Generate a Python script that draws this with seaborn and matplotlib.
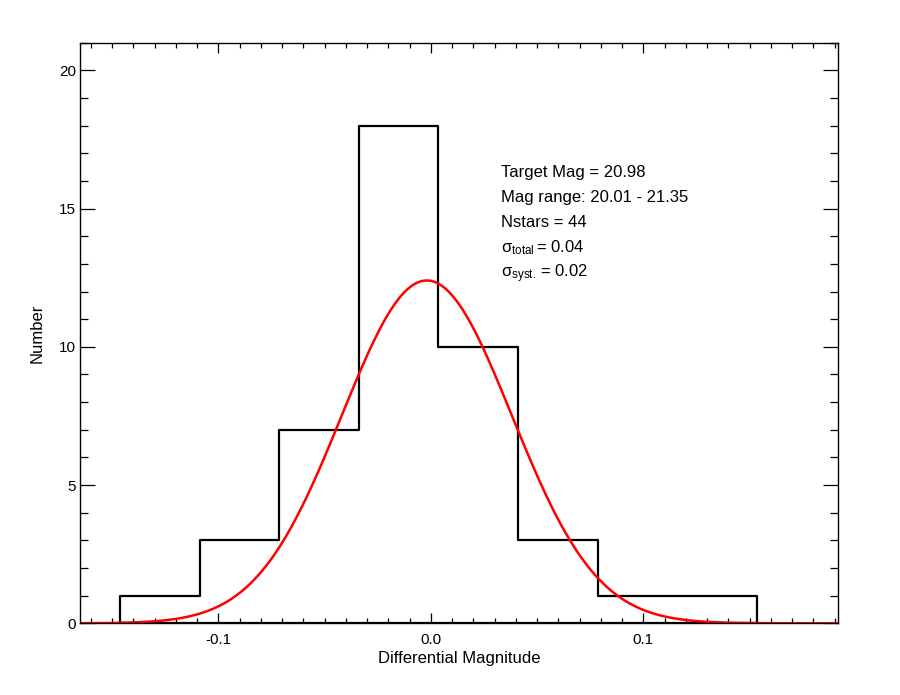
import numpy as np
import matplotlib
matplotlib.use("Agg")
import matplotlib.pyplot as plt
from matplotlib.ticker import MultipleLocator
import seaborn as sns

# histogram of differential magnitudes
bin_edges = [-0.1463, -0.1088, -0.0714, -0.0339, 0.0035, 0.0410, 0.0785, 0.1159, 0.1534]
bin_counts = [1, 3, 7, 18, 10, 3, 1, 1]

# gaussian fit drawn in red
fit_amp = 12.40
fit_center = -0.0019
fit_sigma = 0.0400

info_lines = [
    "Target Mag = 20.98",
    "Mag range: 20.01 - 21.35",
    "Nstars = 44",
    r"$\mathrm{\sigma_{total}}\,$= 0.04",
    r"$\mathrm{\sigma_{syst.}}\,$= 0.02",
]

x_lim = (-0.1651, 0.1916)
y_lim = (0, 21)

sns.set_style("ticks")
plt.rcParams["font.family"] = ["Liberation Sans", "DejaVu Sans"]
plt.rcParams["mathtext.fontset"] = "custom"
plt.rcParams["mathtext.rm"] = "Liberation Sans"
plt.rcParams["mathtext.it"] = "Liberation Sans:italic"
plt.rcParams["mathtext.bf"] = "Liberation Sans:bold"
plt.rcParams["text.color"] = "black"
plt.rcParams["axes.labelcolor"] = "black"

fig = plt.figure(figsize=(9, 6.95), dpi=100)
ax = fig.add_axes([80 / 900, 1 - 623.3 / 695, 758 / 900, 580.6 / 695])

centers = [(a + b) / 2 for a, b in zip(bin_edges[:-1], bin_edges[1:])]
sns.histplot(x=centers, weights=bin_counts, bins=bin_edges, element="step",
             fill=True, color="black", linewidth=1.6, ax=ax)
# outline only: drop the fill so the steps come down to zero at both ends
for coll in ax.collections:
    coll.set_facecolor("none")
    coll.set_edgecolor("black")
    coll.set_linewidth(1.6)

# fit curve evaluated across the full axis range
xs = np.linspace(x_lim[0], x_lim[1], 600)
ys = fit_amp * np.exp(-0.5 * ((xs - fit_center) / fit_sigma) ** 2)
sns.lineplot(x=xs, y=ys, color="red", linewidth=1.8, ax=ax)

ax.set_xlim(*x_lim)
ax.set_ylim(*y_lim)

ax.xaxis.set_major_locator(MultipleLocator(0.1))
ax.xaxis.set_minor_locator(MultipleLocator(0.01))
ax.yaxis.set_major_locator(MultipleLocator(5))
ax.yaxis.set_minor_locator(MultipleLocator(1))
ax.set_xticks([-0.1, 0.0, 0.1])
ax.set_xticklabels(["-0.1", "0.0", "0.1"])

ax.tick_params(axis="both", which="both", direction="in", top=True, right=True,
               color="black", width=0.9, labelsize=11, labelcolor="black")
ax.tick_params(axis="x", which="major", length=7.2, pad=7)
ax.tick_params(axis="x", which="minor", length=3.6)
ax.tick_params(axis="y", which="major", length=10.8, pad=3)
ax.tick_params(axis="y", which="minor", length=5.8)
for s in ax.spines.values():
    s.set_visible(True)
    s.set_color("black")
    s.set_linewidth(1.0)

ax.set_xlabel("Differential Magnitude", fontsize=12, labelpad=3)
ax.set_ylabel("Number", fontsize=12, labelpad=10)

for i, line in enumerate(info_lines):
    ax.text(0.0329, 16.13 - i * 0.905, line, fontsize=12, va="baseline",
            ha="left", color="black")

fig.savefig("out.png", dpi=100, facecolor="white")
